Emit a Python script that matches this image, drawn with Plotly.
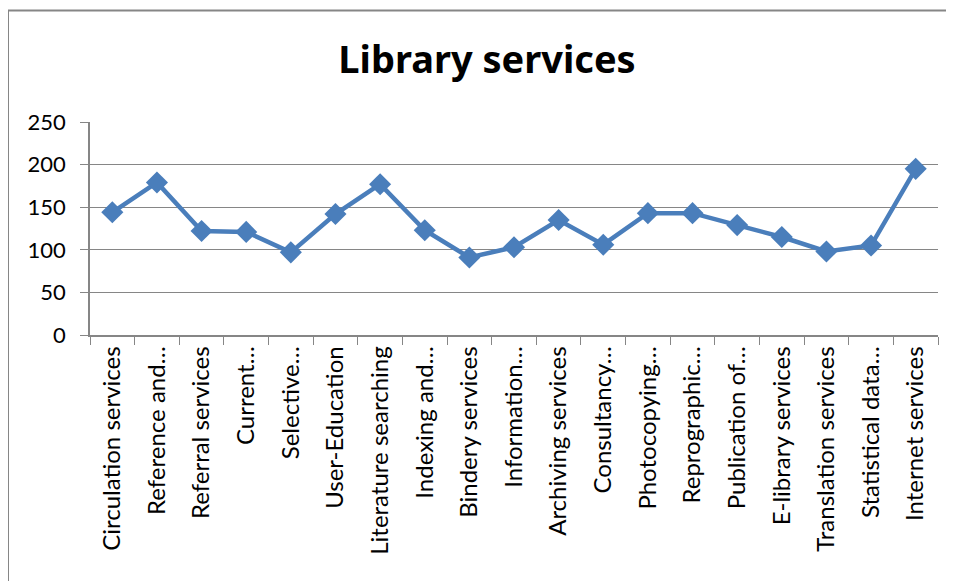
import plotly.graph_objects as go

categories = [
    "Circulation services", "Reference and…", "Referral services", "Current…",
    "Selective…", "User-Education", "Literature searching", "Indexing and…",
    "Bindery services", "Information…", "Archiving services", "Consultancy…",
    "Photocopying…", "Reprographic…", "Publication of…", "E-library services",
    "Translation services", "Statistical data…", "Internet services",
]
values = [144, 179, 122, 121, 97, 142, 177, 123, 91, 103, 135, 106, 143, 143, 129, 115, 98, 105, 195]
y_ticks = [0, 50, 100, 150, 200, 250]

# page body offset of 8px is compensated
OFF = 8
W, H = 954 - OFF, 581 - OFF
L, R, T, B = 90 - OFF, 16, 122 - OFF, 246
pw, ph = W - L - R, H - T - B

def px_x(p):
    return (p - OFF - L) / pw

def px_y(p):
    return (H - B - (p - OFF)) / ph

fig = go.Figure()
fig.add_trace(go.Scatter(
    x=categories, y=values, mode="lines+markers",
    line=dict(color="#4A7EBB", width=4.5),
    marker=dict(symbol="diamond", size=17, color="#4A7EBB"),
    showlegend=False, cliponaxis=False,
))

fig.update_layout(
    width=W, height=H,
    margin=dict(l=L, r=R, t=T, b=B),
    paper_bgcolor="white", plot_bgcolor="white",
    font=dict(family="Lato, Open Sans, sans-serif", color="black"),
    title=dict(text="<b>Library services</b>", x=(487 - OFF) / W, xanchor="center",
               y=1 - (60 - OFF) / H, yanchor="middle",
               font=dict(size=38, family="Noto Sans, Open Sans, sans-serif", color="black")),
    xaxis=dict(
        type="category", range=[-0.5, len(categories) - 0.5],
        tickson="boundaries", ticks="outside", ticklen=8, tickcolor="#868686",
        tickangle=-90, tickfont=dict(size=24), showgrid=False,
        showline=True, linecolor="#868686", linewidth=1.5, zeroline=False,
    ),
    yaxis=dict(
        range=[0, 250], tickvals=y_ticks, ticks="outside", ticklen=8,
        tickcolor="#868686", tickfont=dict(size=22), showgrid=True,
        gridcolor="#868686", gridwidth=1.2, showline=True, linecolor="#868686",
        linewidth=1.5, zeroline=False, ticklabelstandoff=10,
    ),
    shapes=[dict(type="rect", xref="paper", yref="paper",
                 x0=px_x(8), x1=px_x(1000), y0=px_y(640), y1=px_y(10.5),
                 line=dict(color="#868686", width=2), fillcolor="rgba(0,0,0,0)",
                 layer="below")],
)

fig.write_html("out.html")
